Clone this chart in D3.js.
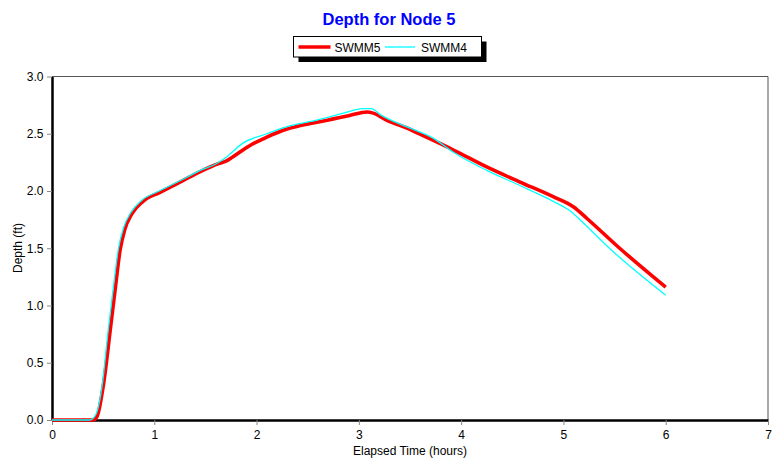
<!DOCTYPE html>
<html>
    <head>
        <meta charset="utf-8">
        <title> Depth for Node 5 </title>
        <script type="text/javascript" src="https://d3js.org/d3.v7.min.js"></script>
        <style>
            body { margin: 0; background: white; }
            text { font-family: "Liberation Sans", Arial, sans-serif; }
        </style>
    </head>
    <body>
        <script>

            // valeurs (heures, pieds)
            var swmm5Time  = [0, 0.40, 0.44, 0.50, 0.57, 0.62, 0.665, 0.71, 0.78, 0.89, 1.06, 1.32, 1.45, 1.63, 1.70, 1.77, 1.94, 2.10, 2.26, 2.42, 2.59, 2.75, 2.91, 3.08, 3.14, 3.27, 3.47, 3.66, 3.92, 4.25, 4.57, 4.90, 5.10, 5.23, 5.55, 6.0];
            var swmm5Depth = [0, 0, 0.03, 0.29, 0.79, 1.16, 1.48, 1.66, 1.80, 1.91, 1.99, 2.11, 2.17, 2.24, 2.26, 2.30, 2.40, 2.47, 2.53, 2.57, 2.60, 2.63, 2.66, 2.69, 2.68, 2.62, 2.55, 2.47, 2.36, 2.21, 2.08, 1.95, 1.86, 1.76, 1.50, 1.16];

            var swmm4Time  = [0, 0.37, 0.43, 0.49, 0.55, 0.60, 0.65, 0.70, 0.77, 0.88, 1.05, 1.32, 1.45, 1.61, 1.71, 1.87, 2.10, 2.33, 2.59, 2.85, 3.04, 3.12, 3.22, 3.47, 3.73, 3.92, 4.25, 4.57, 4.90, 5.06, 5.23, 5.45, 6.0];
            var swmm4Depth = [0, 0, 0.05, 0.30, 0.79, 1.16, 1.50, 1.68, 1.81, 1.92, 2.00, 2.12, 2.18, 2.24, 2.30, 2.42, 2.50, 2.57, 2.62, 2.68, 2.72, 2.72, 2.66, 2.56, 2.46, 2.34, 2.18, 2.05, 1.91, 1.83, 1.69, 1.50, 1.09];

            var xTicks = [0, 1, 2, 3, 4, 5, 6, 7];
            var yTicks = [0, 0.5, 1.0, 1.5, 2.0, 2.5, 3.0];

            var seriesNames  = ["SWMM5", "SWMM4"];
            var seriesColors = ["#ff0000", "#00ffff"];
            var seriesWidths = [3.6, 1.3];

            var width = 782, height = 466;
            var plotLeft = 52, plotRight = 768, plotTop = 76.5, plotBottom = 420;

            var svg = d3.select("body").append("svg")
                        .attr("width", width)
                        .attr("height", height);

            var x = d3.scaleLinear().domain([0, 7]).range([plotLeft, plotRight]);
            var y = d3.scaleLinear().domain([0, 3]).range([plotBottom, plotTop]);

            // cadre haut et droite (gris fin)
            svg.append("path")
                .attr("d", "M" + plotLeft + "," + plotTop + "H" + plotRight + "V" + plotBottom)
                .attr("fill", "none")
                .attr("stroke", "#555")
                .attr("stroke-width", 1);

            // axes
            var xAxis = svg.append("g")
                .attr("transform", "translate(0," + plotBottom + ")")
                .call(d3.axisBottom(x).tickValues(xTicks).tickSize(5).tickSizeOuter(0).tickFormat(d3.format("d")));

            var yAxis = svg.append("g")
                .attr("transform", "translate(" + plotLeft + ",0)")
                .call(d3.axisLeft(y).tickValues(yTicks).tickSize(5).tickSizeOuter(0).tickFormat(d3.format(".1f")));

            [xAxis, yAxis].forEach(function(a) {
                a.select(".domain").attr("stroke", "#000").attr("stroke-width", 2.5);
                a.selectAll(".tick line").attr("stroke", "#888");
                a.selectAll(".tick text")
                    .attr("fill", "#000")
                    .style("font-size", "12px")
                    .style("font-family", "'Liberation Sans', Arial, sans-serif");
            });
            xAxis.selectAll(".tick text").attr("dy", "0.9em");
            yAxis.selectAll(".tick text").attr("dx", "-0.05em");

            // courbes
            var line = d3.line()
                .x(function(d) { return x(d[0]); })
                .y(function(d) { return y(d[1]); })
                .curve(d3.curveMonotoneX);

            var series = [
                d3.zip(swmm5Time, swmm5Depth),
                d3.zip(swmm4Time, swmm4Depth)
            ];

            svg.selectAll(".serie")
                .data(series)
                .enter()
                .append("path")
                .attr("class", "serie")
                .attr("d", line)
                .attr("fill", "none")
                .attr("stroke", function(d, i) { return seriesColors[i]; })
                .attr("stroke-width", function(d, i) { return seriesWidths[i]; })
                .attr("stroke-linejoin", "round");

            // titre
            svg.append("text")
                .attr("x", 389)
                .attr("y", 25)
                .attr("text-anchor", "middle")
                .attr("fill", "#0000ff")
                .style("font-size", "16.5px")
                .style("font-weight", "bold")
                .text("Depth for Node 5");

            // légende
            var legend = svg.append("g").attr("transform", "translate(293.5,36.5)");
            legend.append("rect")
                .attr("x", 5).attr("y", 5)
                .attr("width", 188).attr("height", 20.5)
                .attr("fill", "#000");
            legend.append("rect")
                .attr("width", 188).attr("height", 20.5)
                .attr("fill", "#fff")
                .attr("stroke", "#000")
                .attr("stroke-width", 1);

            var items = legend.selectAll(".item")
                .data(seriesNames)
                .enter()
                .append("g")
                .attr("class", "item")
                .attr("transform", function(d, i) { return "translate(" + (5 + i * 86.5) + ",0)"; });

            items.append("line")
                .attr("x1", 0).attr("x2", function(d, i) { return i ? 30 : 32; })
                .attr("y1", 10.5).attr("y2", 10.5)
                .attr("stroke", function(d, i) { return seriesColors[i]; })
                .attr("stroke-width", function(d, i) { return seriesWidths[i]; });

            items.append("text")
                .attr("x", 36)
                .attr("y", 15)
                .style("font-size", "12px")
                .text(function(d) { return d; });

            // titres des axes
            svg.append("text")
                .attr("x", 410)
                .attr("y", 455)
                .attr("text-anchor", "middle")
                .style("font-size", "12px")
                .text("Elapsed Time (hours)");

            svg.append("text")
                .attr("transform", "translate(21.5,248) rotate(-90)")
                .attr("text-anchor", "middle")
                .style("font-size", "12px")
                .text("Depth (ft)");

        </script>
    </body>
</html>
